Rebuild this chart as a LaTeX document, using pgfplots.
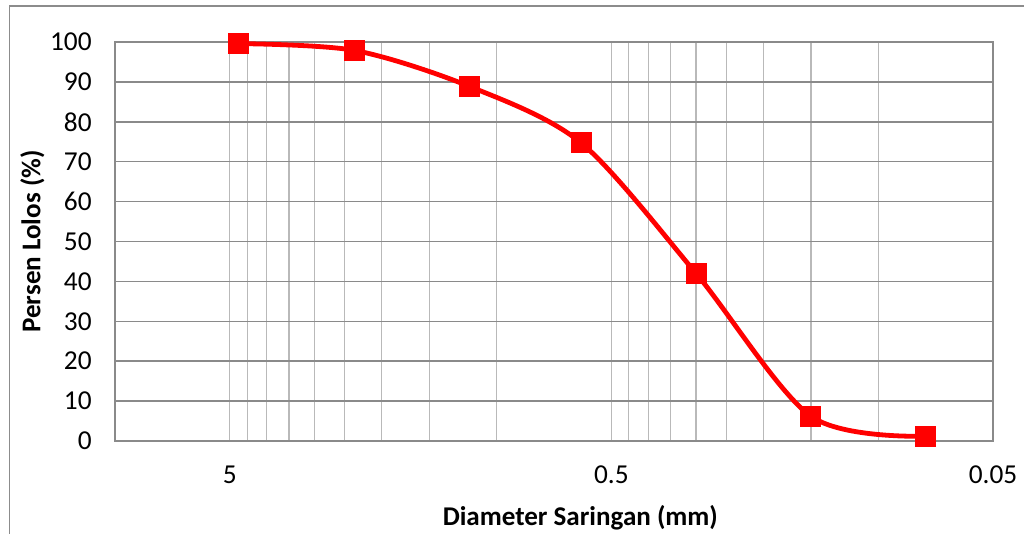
\documentclass[border=0pt]{standalone}
\usepackage{pgfplots}
\pgfplotsset{compat=1.18}
\usepackage{fontspec}
\setmainfont{Carlito}
\definecolor{gridv}{RGB}{185,185,185}
\definecolor{gridh}{RGB}{138,138,138}
\definecolor{framec}{RGB}{140,140,140}
\begin{document}
\begin{tikzpicture}
\useasboundingbox (0pt,0pt) rectangle (768pt,399.75pt);
\draw[framec, line width=1.1pt] (7.1pt,-15pt) -- (7.1pt,395.25pt) -- (830pt,395.25pt);
\begin{axis}[
  at={(86.25pt,69pt)}, anchor=south west,
  scale only axis, width=658.5pt, height=299.25pt,
  xmode=log, x dir=reverse,
  xmin=0.05, xmax=10, ymin=0, ymax=100,
  xtick={0.05,0.5,5}, xticklabels={0.05,0.5,5},
  minor xtick={0.1,0.15,0.2,0.25,0.3,0.35,0.4,0.45,1,1.5,2,2.5,3,3.5,4,4.5},
  ytick={0,10,...,100},
  xmajorgrids, xminorgrids, ymajorgrids,
  major x grid style={gridv, line width=0.9pt},
  minor x grid style={gridv, line width=0.9pt},
  major y grid style={gridh, line width=1.1pt},
  axis line style={gridh, line width=1.1pt},
  major tick length=0pt, minor tick length=0pt,
  /pgf/number format/assume math mode=true,
  tick label style={font=\fontsize{20.5}{24}\selectfont, black},
  yticklabel style={xshift=-14pt},
  xticklabel style={yshift=-15pt},
  xlabel={\bfseries Diameter Saringan (mm)},
  ylabel={\bfseries Persen Lolos (\%)},
  label style={font=\fontsize{20.3}{24}\selectfont},
  xlabel style={at={(axis description cs:0.53,-0.193)}, anchor=center},
  ylabel style={at={(axis description cs:-0.094,0.5)}, anchor=center},
  clip=false,
]
\addplot[red, line width=3.6pt, smooth, mark=square*, mark size=7.5pt, mark options={fill=red, draw=red, line width=0pt}]
coordinates {
(4.75,99.6) (2.36,97.9) (1.18,88.9) (0.6,74.7) (0.3,42.0) (0.15,6.2) (0.075,1.2)
};
\end{axis}
\end{tikzpicture}
\end{document}
